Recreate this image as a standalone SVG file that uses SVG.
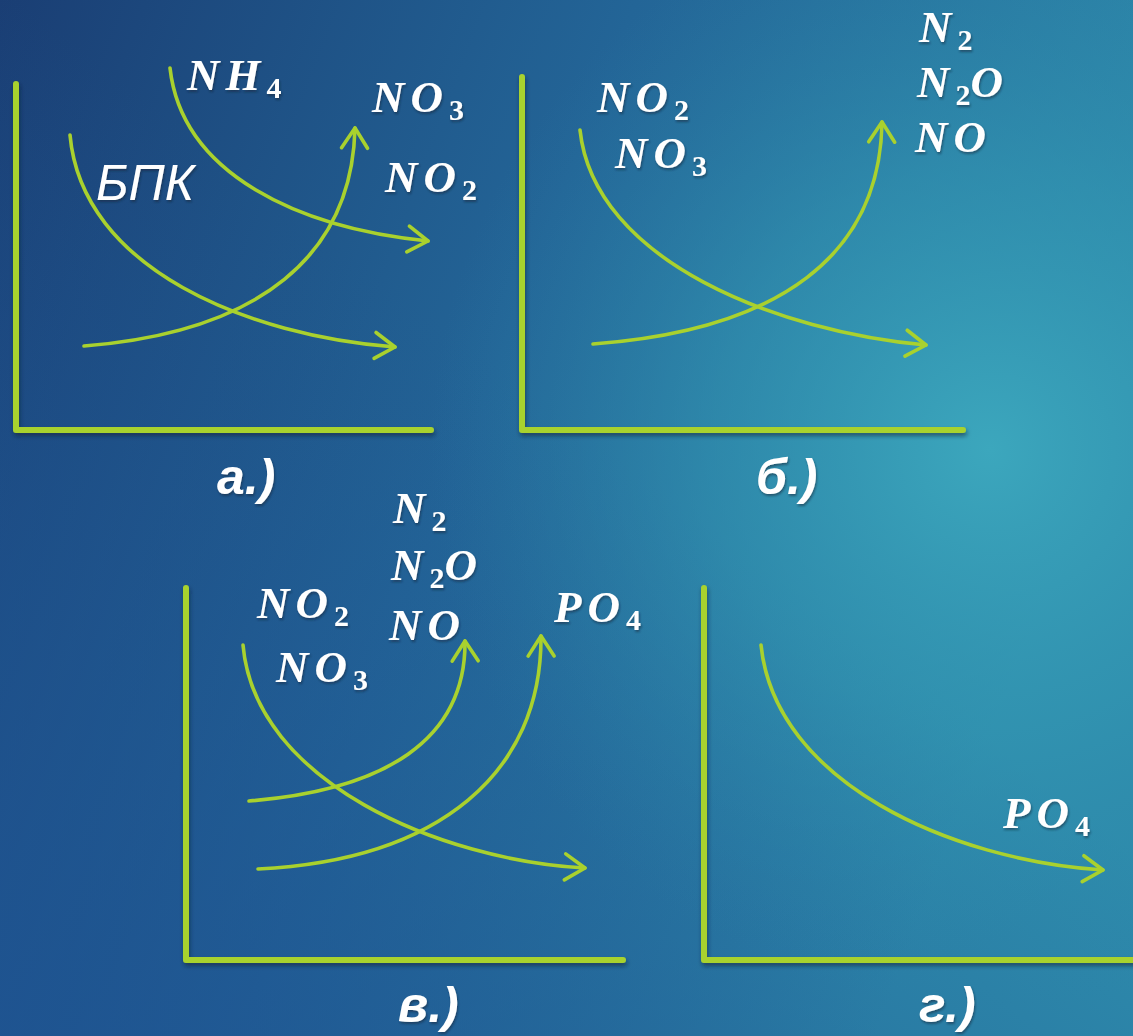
<svg xmlns="http://www.w3.org/2000/svg" width="1133" height="1036" viewBox="0 0 1133 1036">
<defs>
<linearGradient id="bg" x1="0" y1="0" x2="1" y2="0.35">
<stop offset="0" stop-color="#1a3e74"/>
<stop offset="0.5" stop-color="#236597"/>
<stop offset="1" stop-color="#2e8cac"/>
</linearGradient>
<radialGradient id="glow" cx="990" cy="450" r="560" gradientUnits="userSpaceOnUse">
<stop offset="0" stop-color="#3ca7bd" stop-opacity="1"/>
<stop offset="0.5" stop-color="#3397b3" stop-opacity="0.55"/>
<stop offset="1" stop-color="#2a7ea6" stop-opacity="0"/>
</radialGradient>
<linearGradient id="bl" x1="0" y1="1" x2="0.5" y2="0.4">
<stop offset="0" stop-color="#1e5392" stop-opacity="0.8"/>
<stop offset="1" stop-color="#1e5392" stop-opacity="0"/>
</linearGradient>
<filter id="sh" x="-10%" y="-10%" width="130%" height="140%">
<feDropShadow dx="1" dy="3" stdDeviation="2" flood-color="#0a1a30" flood-opacity="0.55"/>
</filter>
<filter id="tsh" x="-10%" y="-10%" width="130%" height="140%">
<feDropShadow dx="1" dy="2" stdDeviation="1.2" flood-color="#0a1a30" flood-opacity="0.5"/>
</filter>
<marker id="ah" viewBox="-24 -16 28 32" refX="0" refY="0" markerWidth="28" markerHeight="32" markerUnits="userSpaceOnUse" orient="auto">
<path d="M-20,-13 L0,0 L-20,13" fill="none" stroke="#a9d12e" stroke-width="3.6" stroke-linecap="round" stroke-linejoin="round"/>
</marker>
</defs>
<style>
.axis{fill:none;stroke:#a8d22f;stroke-width:6;stroke-linecap:round;stroke-linejoin:round}
.crv{fill:none;stroke:#a9d12e;stroke-width:3.6;stroke-linecap:round;marker-end:url(#ah)}
.chem{font-family:"Liberation Serif","DejaVu Serif",serif;font-weight:bold;font-style:italic;font-size:45px;fill:#ffffff;letter-spacing:6px}
.sub{font-style:normal;font-size:30px;letter-spacing:0}
.lbl{font-family:"Liberation Sans","DejaVu Sans",sans-serif;font-style:italic;font-size:50px;fill:#ffffff}
.pl{font-weight:bold}
</style>
<rect x="0" y="0" width="1133" height="1036" fill="url(#bg)"/>
<rect x="0" y="0" width="1133" height="1036" fill="url(#bl)"/>
<rect x="0" y="0" width="1133" height="1036" fill="url(#glow)"/>

<g id="axes" filter="url(#sh)">
<path class="axis" d="M16,84 L16,430 L431,430"/>
<path class="axis" d="M522,77 L522,430 L963,430"/>
<path class="axis" d="M186,588 L186,960 L623,960"/>
<path class="axis" d="M704,588 L704,960 L1140,960"/>
</g>

<g id="connectors">
<path class="crv" d="M70,135 C 82,270 250,336 395,347"/>
<path class="crv" d="M170,68 C 182,175 300,228 428,241"/>
<path class="crv" d="M84,346 C 260,332 352,255 355,128"/>
<path class="crv" d="M580,130 C 594,262 780,332 926,345"/>
<path class="crv" d="M593,344 C 780,330 880,255 882,122"/>
<path class="crv" d="M243,645 C 255,782 440,860 585,868"/>
<path class="crv" d="M249,801 C 385,790 466,740 465,641"/>
<path class="crv" d="M258,869 C 440,860 542,772 541,636"/>
<path class="crv" d="M761,645 C 775,782 950,860 1103,870"/>
</g>

<g id="panel-a-labels" filter="url(#tsh)">
<text class="chem" x="187" y="90">NH<tspan class="sub" dy="8">4</tspan></text>
<text class="chem" x="372" y="112">NO<tspan class="sub" dy="8">3</tspan></text>
<text class="chem" x="385" y="192">NO<tspan class="sub" dy="8">2</tspan></text>
<text class="lbl" x="96" y="200" font-size="52">БПК</text>
<text class="lbl pl" x="217" y="494">а.)</text>
</g>

<g id="panel-b-labels" filter="url(#tsh)">
<text class="chem" x="597" y="112">NO<tspan class="sub" dy="8">2</tspan></text>
<text class="chem" x="615" y="168">NO<tspan class="sub" dy="8">3</tspan></text>
<text class="chem" x="919" y="42">N<tspan class="sub" dy="8">2</tspan></text>
<text class="chem" x="917" y="97">N<tspan class="sub" dy="8">2</tspan><tspan dy="-8">O</tspan></text>
<text class="chem" x="915" y="152">NO</text>
<text class="lbl pl" x="756" y="494">б.)</text>
</g>

<g id="panel-c-labels" filter="url(#tsh)">
<text class="chem" x="257" y="618">NO<tspan class="sub" dy="8">2</tspan></text>
<text class="chem" x="276" y="682">NO<tspan class="sub" dy="8">3</tspan></text>
<text class="chem" x="393" y="523">N<tspan class="sub" dy="8">2</tspan></text>
<text class="chem" x="391" y="580">N<tspan class="sub" dy="8">2</tspan><tspan dy="-8">O</tspan></text>
<text class="chem" x="389" y="640">NO</text>
<text class="chem" x="554" y="622">PO<tspan class="sub" dy="8">4</tspan></text>
<text class="lbl pl" x="398" y="1022">в.)</text>
</g>

<g id="panel-d-labels" filter="url(#tsh)">
<text class="chem" x="1003" y="828">PO<tspan class="sub" dy="8">4</tspan></text>
<text class="lbl pl" x="919" y="1022">г.)</text>
</g>
</svg>
